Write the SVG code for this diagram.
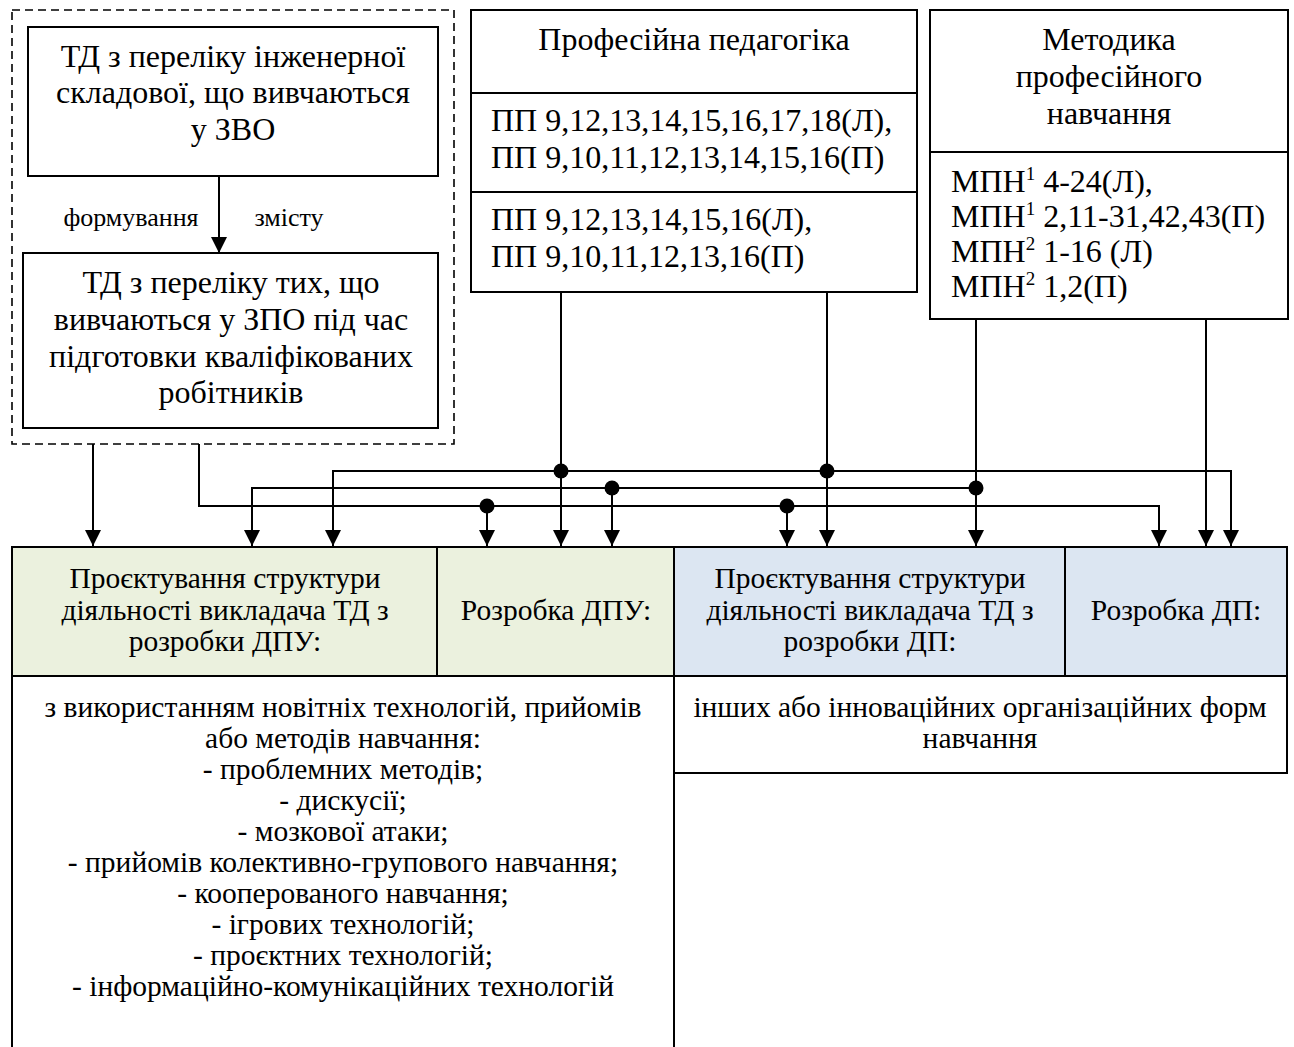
<svg xmlns="http://www.w3.org/2000/svg" width="1294" height="1047" viewBox="0 0 1294 1047">
<defs>
<style>
.box{fill:#fff;stroke:#000;stroke-width:2}
.green{fill:#EBF1DE;stroke:#000;stroke-width:2}
.blue{fill:#DCE6F2;stroke:#000;stroke-width:2}
.dash{fill:none;stroke:#000;stroke-width:1.6;stroke-dasharray:8,5}
.t{font-family:"Liberation Serif","Times New Roman",serif;fill:#000}
.big{font-size:32px}
.mid{font-size:29.5px}
.sm{font-size:26px}
.c{text-anchor:middle}
.ln{fill:none;stroke:#000;stroke-width:2}
.dot{fill:#000}
</style>
<marker id="ah" markerUnits="userSpaceOnUse" markerWidth="16" markerHeight="16" refX="16" refY="8" orient="auto" viewBox="0 0 16 16">
<path d="M0,0 L16,8 L0,16 z" fill="#000"/>
</marker>
</defs>
<rect width="1294" height="1047" fill="#fff"/>

<g id="group-dashed">
<rect class="dash" x="12" y="10" width="442" height="434"/>
</g>

<g id="node-zvo">
<rect class="box" x="28" y="27" width="410" height="149"/>
<text class="t big c" x="233" y="67">ТД з переліку інженерної</text>
<text class="t big c" x="233" y="103">складової, що вивчаються</text>
<text class="t big c" x="233" y="140">у ЗВО</text>
</g>

<g id="node-zpo">
<rect class="box" x="23" y="253" width="415" height="175"/>
<text class="t big c" x="231" y="293">ТД з переліку тих, що</text>
<text class="t big c" x="231" y="330">вивчаються у ЗПО під час</text>
<text class="t big c" x="231" y="367">підготовки кваліфікованих</text>
<text class="t big c" x="231" y="403">робітників</text>
</g>

<g id="node-prof-ped">
<rect class="box" x="471" y="10" width="446" height="282"/>
<line class="ln" x1="471" y1="93" x2="917" y2="93"/>
<line class="ln" x1="471" y1="192" x2="917" y2="192"/>
<text class="t big c" x="694" y="50">Професійна педагогіка</text>
<text class="t big" x="491" y="131">ПП 9,12,13,14,15,16,17,18(Л),</text>
<text class="t big" x="491" y="168">ПП 9,10,11,12,13,14,15,16(П)</text>
<text class="t big" x="491" y="230">ПП 9,12,13,14,15,16(Л),</text>
<text class="t big" x="491" y="267">ПП 9,10,11,12,13,16(П)</text>
</g>

<g id="node-method">
<rect class="box" x="930" y="10" width="358" height="309"/>
<line class="ln" x1="930" y1="152" x2="1288" y2="152"/>
<text class="t big c" x="1109" y="50">Методика</text>
<text class="t big c" x="1109" y="87">професійного</text>
<text class="t big c" x="1109" y="124">навчання</text>
<text class="t big" x="951" y="192">МПН<tspan font-size="19" dy="-12">1</tspan><tspan dy="12"> 4-24(Л),</tspan></text>
<text class="t big" x="951" y="227">МПН<tspan font-size="19" dy="-12">1</tspan><tspan dy="12"> 2,11-31,42,43(П)</tspan></text>
<text class="t big" x="951" y="262">МПН<tspan font-size="19" dy="-12">2</tspan><tspan dy="12">  1-16 (Л)</tspan></text>
<text class="t big" x="951" y="297">МПН<tspan font-size="19" dy="-12">2</tspan><tspan dy="12"> 1,2(П)</tspan></text>
</g>

<g id="node-design-dpu">
<rect class="green" x="12" y="547" width="425" height="129"/>
<text class="t mid c" x="225" y="588">Проєктування структури</text>
<text class="t mid c" x="225" y="620">діяльності викладача ТД з</text>
<text class="t mid c" x="225" y="651">розробки ДПУ:</text>
</g>

<g id="node-dev-dpu">
<rect class="green" x="437" y="547" width="237" height="129"/>
<text class="t mid c" x="556" y="620">Розробка ДПУ:</text>
</g>

<g id="node-design-dp">
<rect class="blue" x="674" y="547" width="391" height="129"/>
<text class="t mid c" x="870" y="588">Проєктування структури</text>
<text class="t mid c" x="870" y="620">діяльності викладача ТД з</text>
<text class="t mid c" x="870" y="651">розробки ДП:</text>
</g>

<g id="node-dev-dp">
<rect class="blue" x="1065" y="547" width="222" height="129"/>
<text class="t mid c" x="1176" y="620">Розробка ДП:</text>
</g>

<g id="node-methods">
<rect class="box" x="12" y="676" width="662" height="380"/>
<text class="t mid c" x="343" y="717">з використанням новітніх технологій, прийомів</text>
<text class="t mid c" x="343" y="748">або методів навчання:</text>
<text class="t mid c" x="343" y="779">- проблемних методів;</text>
<text class="t mid c" x="343" y="810">- дискусії;</text>
<text class="t mid c" x="343" y="841">- мозкової атаки;</text>
<text class="t mid c" x="343" y="872">- прийомів колективно-групового навчання;</text>
<text class="t mid c" x="343" y="903">- кооперованого навчання;</text>
<text class="t mid c" x="343" y="934">- ігрових технологій;</text>
<text class="t mid c" x="343" y="965">- проєктних технологій;</text>
<text class="t mid c" x="343" y="996">- інформаційно-комунікаційних технологій</text>
</g>

<g id="node-forms">
<rect class="box" x="674" y="676" width="613" height="97"/>
<text class="t mid c" x="980" y="717">інших або інноваційних організаційних форм</text>
<text class="t mid c" x="980" y="748">навчання</text>
</g>

<g id="connectors">
<line class="ln" x1="219" y1="176" x2="219" y2="253" marker-end="url(#ah)"/>
<text class="t sm c" x="131" y="226">формування</text>
<text class="t sm c" x="289" y="226">змісту</text>

<line class="ln" x1="93" y1="444" x2="93" y2="546" marker-end="url(#ah)"/>
<polyline class="ln" points="199,444 199,506 1159,506 1159,546" marker-end="url(#ah)"/>
<line class="ln" x1="487" y1="506" x2="487" y2="546" marker-end="url(#ah)"/>
<line class="ln" x1="787" y1="506" x2="787" y2="546" marker-end="url(#ah)"/>

<line class="ln" x1="976" y1="319" x2="976" y2="546" marker-end="url(#ah)"/>
<polyline class="ln" points="976,488 252,488 252,546" marker-end="url(#ah)"/>
<line class="ln" x1="612" y1="488" x2="612" y2="546" marker-end="url(#ah)"/>

<line class="ln" x1="561" y1="292" x2="561" y2="546" marker-end="url(#ah)"/>
<line class="ln" x1="827" y1="292" x2="827" y2="546" marker-end="url(#ah)"/>
<polyline class="ln" points="333,546 333,471 1231,471 1231,546"/>
<line class="ln" x1="333" y1="480" x2="333" y2="546" marker-end="url(#ah)"/>
<line class="ln" x1="1231" y1="480" x2="1231" y2="546" marker-end="url(#ah)"/>

<line class="ln" x1="1206" y1="319" x2="1206" y2="546" marker-end="url(#ah)"/>

<circle class="dot" cx="561" cy="471" r="7.5"/>
<circle class="dot" cx="827" cy="471" r="7.5"/>
<circle class="dot" cx="612" cy="488" r="7.5"/>
<circle class="dot" cx="976" cy="488" r="7.5"/>
<circle class="dot" cx="487" cy="506" r="7.5"/>
<circle class="dot" cx="787" cy="506" r="7.5"/>
</g>
</svg>
